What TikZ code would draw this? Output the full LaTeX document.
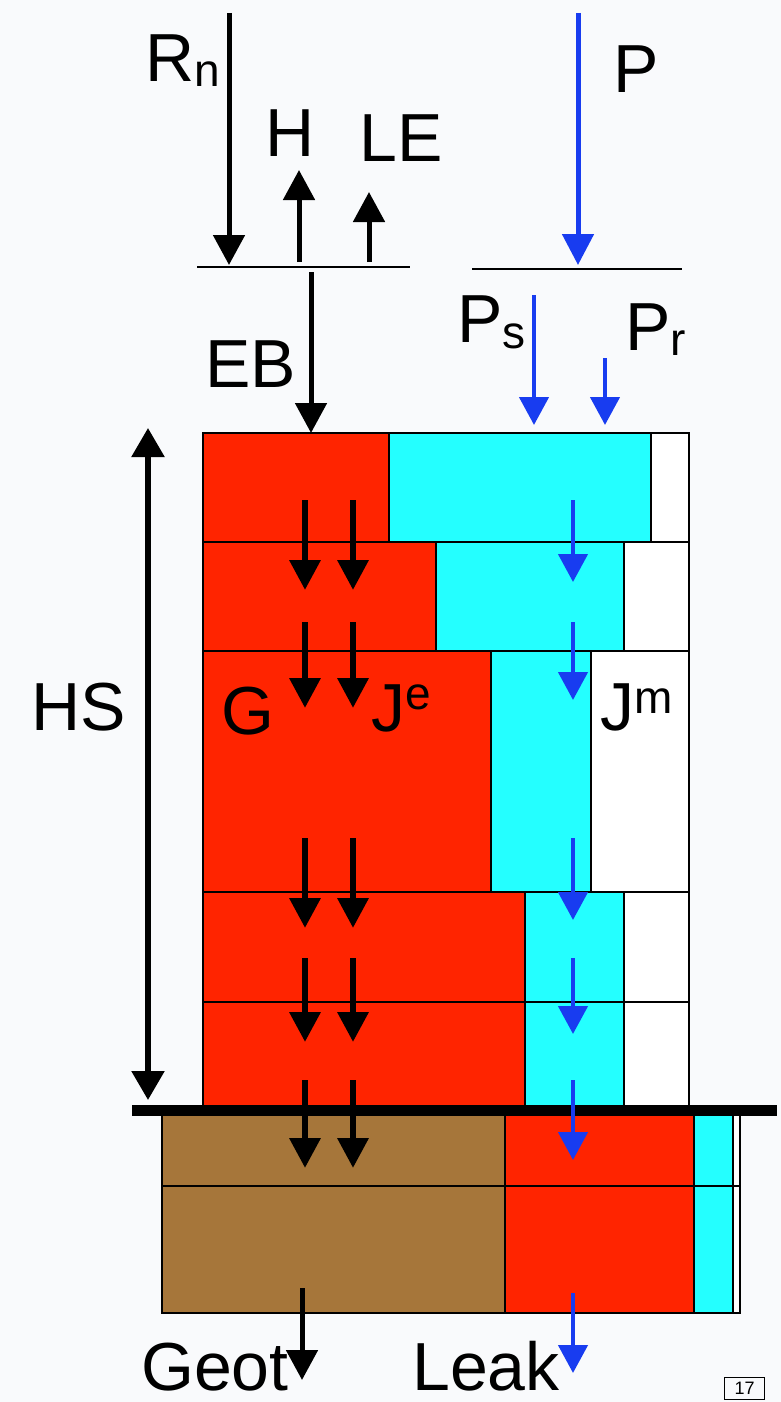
\documentclass[tikz,border=0pt]{standalone}
\usepackage{fontspec}
\setmainfont{Liberation Sans}
\usetikzlibrary{arrows.meta}
\definecolor{cred}{RGB}{255,36,0}
\definecolor{ccyan}{RGB}{36,255,255}
\definecolor{cbrown}{RGB}{166,118,58}
\definecolor{cblue}{RGB}{24,60,240}
\definecolor{bgc}{RGB}{249,250,252}
\newcommand{\smallf}{\fontsize{46}{46}\selectfont}
\tikzset{
  lbl/.style={font=\fontsize{68}{68}\selectfont, inner sep=0pt, anchor=base west},
  cell/.style={draw=black, line width=1.6pt},
  blackarrow/.style={line width=5pt, -{Triangle[width=31pt,length=30pt]}},
  innerblack/.style={line width=6.5pt, -{Triangle[width=30pt,length=30pt]}},
  bluearrow/.style={cblue, line width=5pt, -{Triangle[width=31pt,length=31pt]}},
  innerblue/.style={cblue, line width=4.5pt, -{Triangle[width=29pt,length=28pt]}},
  surface/.style={line width=2pt},
}
\begin{document}
\begin{tikzpicture}[x=1pt,y=-1pt]
\useasboundingbox (0,0) rectangle (781,1402);
\fill[bgc] (0,0) rectangle (781,1402);

% upper column cells
\foreach \y/\Y/\a/\b in {433/542/389/651, 542/651/436/624, 651/892/491/591, 892/1002/525/624, 1002/1110/525/624}{
  \filldraw[cell, fill=cred] (203,\y) rectangle (\a,\Y);
  \filldraw[cell, fill=ccyan] (\a,\y) rectangle (\b,\Y);
  \filldraw[cell, fill=white] (\b,\y) rectangle (689,\Y);
}
% lower (soil) cells
\foreach \y/\Y in {1110/1186, 1186/1313}{
  \filldraw[cell, fill=cbrown] (162,\y) rectangle (505,\Y);
  \filldraw[cell, fill=cred] (505,\y) rectangle (694,\Y);
  \filldraw[cell, fill=ccyan] (694,\y) rectangle (733,\Y);
  \filldraw[cell, fill=white] (733,\y) rectangle (740,\Y);
}

% coordinates
\coordinate (g1) at (132,1110);
\coordinate (g2) at (777,1110);
\coordinate (sl1) at (197,267);
\coordinate (sl2) at (410,267);
\coordinate (sr1) at (472,269);
\coordinate (sr2) at (682,269);
\coordinate (rn1) at (229,13);   \coordinate (rn2) at (229,265);
\coordinate (h1) at (299,262);   \coordinate (h2) at (299,170);
\coordinate (le1) at (369,262);  \coordinate (le2) at (369,192);
\coordinate (eb1) at (311,272);  \coordinate (eb2) at (311,433);
\coordinate (hs1) at (148,428);  \coordinate (hs2) at (148,1100);
\coordinate (p1) at (578,13);    \coordinate (p2) at (578,265);
\coordinate (ps1) at (534,295);  \coordinate (ps2) at (534,425);
\coordinate (pr1) at (605,358);  \coordinate (pr2) at (605,425);
\coordinate (geo1) at (302,1288); \coordinate (geo2) at (302,1380);
\coordinate (lk1) at (573,1293); \coordinate (lk2) at (573,1373);

% ground surface
\draw[line width=11pt] (g1) -- (g2);
% canopy / surface lines
\draw[surface] (sl1) -- (sl2);
\draw[surface] (sr1) -- (sr2);

% top arrows
\draw[blackarrow] (rn1) -- (rn2);
\draw[blackarrow] (h1) -- (h2);
\draw[blackarrow] (le1) -- (le2);
\draw[blackarrow] (eb1) -- (eb2);
\draw[line width=5.5pt, {Triangle[width=32pt,length=29pt]}-{Triangle[width=32pt,length=29pt]}] (hs1) -- (hs2);
\draw[bluearrow] (p1) -- (p2);
\draw[innerblue] (ps1) -- (ps2);
\draw[innerblue] (pr1) -- (pr2);

% internal flux arrows
\foreach \i/\s/\t in {1/500/590, 2/622/708, 3/838/928, 4/958/1042, 5/1080/1168}{
  \coordinate (gs\i) at (305,\s); \coordinate (ge\i) at (305,\t);
  \coordinate (js\i) at (353,\s); \coordinate (je\i) at (353,\t);
  \coordinate (ms\i) at (573,\s); \coordinate (me\i) at (573,\t-8);
  \draw[innerblack] (gs\i) -- (ge\i);
  \draw[innerblack] (js\i) -- (je\i);
  \draw[innerblue] (ms\i) -- (me\i);
}
\draw[blackarrow] (geo1) -- (geo2);
\draw[innerblue] (lk1) -- (lk2);

% labels
\node[lbl] (tRn) at (145,82) {R\raisebox{-5pt}{\smallf n}};
\node[lbl] (tH) at (265,157) {H};
\node[lbl] (tLE) at (359,161) {LE};
\node[lbl] (tP) at (613,93) {P};
\node[lbl] (tEB) at (205,387) {EB};
\node[lbl] (tPs) at (457,342) {P\raisebox{-6pt}{\smallf s}};
\node[lbl] (tPr) at (625,350) {P\raisebox{-5pt}{\smallf r}};
\node[lbl, anchor=base east] (tHS) at (126,730) {HS};
\node[lbl] (tG) at (221,734) {G};
\node[lbl] (tJe) at (371,731) {J\raisebox{22pt}{\smallf e}};
\node[lbl] (tJm) at (600,730) {J\raisebox{17pt}{\smallf m}};
\node[lbl] (tGeot) at (141,1390) {Geot};
\node[lbl] (tLeak) at (412,1390) {Leak};

% slide number
\node[draw, line width=1pt, font=\fontsize{18}{18}\selectfont\rmfamily, inner sep=1pt, minimum width=40pt, minimum height=22pt, anchor=north west] (pg) at (724,1377) {17};
\end{tikzpicture}
\end{document}
